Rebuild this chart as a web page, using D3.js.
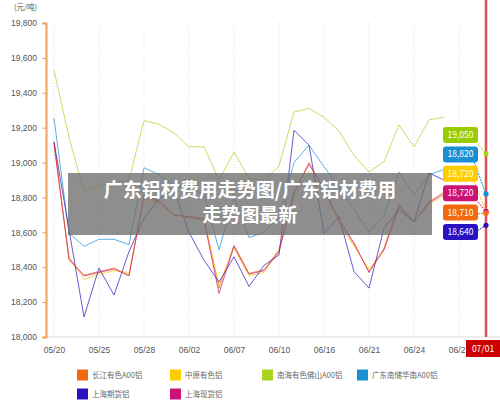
<!DOCTYPE html>
<html><head><meta charset="utf-8">
<script src="https://cdn.jsdelivr.net/npm/d3@7"></script>
<style>body{margin:0;background:#fff}svg{display:block;font-family:"Noto Sans CJK SC","DejaVu Sans",sans-serif}</style>
</head><body><svg id="c" width="500" height="409"></svg>
<script>
const xTicks = ["05/20","05/25","05/28","06/02","06/07","06/10","06/16","06/21","06/24","06/27"];
const yTicks = [18000,18200,18400,18600,18800,19000,19200,19400,19600,19800];
const names = ["长江有色A00铝","中原有色铝","南海有色佛山A00铝","广东南储华南A00铝","上海期货铝","上海现货铝"];
const colors = ["#f26a0f","#ffcc00","#a8d420","#1a8fd4","#2a12c0","#cc1377"];
const changjiang = [19120,18440,18355,18375,18395,18355,18800,18775,18700,18690,18680,18280,18525,18365,18385,18500,18825,19000,18845,18670,18530,18375,18510,18760,18660,18775,18830];
const zhongyuan  = [19100,18460,18330,18360,18380,18370,18790,18760,18700,18680,18670,18300,18510,18350,18370,18490,18800,18950,18820,18650,18520,18390,18500,18740,18660,18760,18810];
const nanhai     = [19530,19146,18830,18870,18880,18900,19240,19220,19170,19090,19090,18900,19060,18910,18900,18980,19290,19310,19260,19180,19040,18945,19005,19215,19090,19245,19260];
const guangdong  = [19255,18595,18520,18560,18560,18530,18970,18930,18870,18850,18820,18500,18800,18570,18600,18690,19000,19100,18975,18860,18730,18600,18700,18945,18815,18930,18960];
const shqihuo    = [19120,18615,18115,18395,18240,18490,18680,18795,18840,18600,18440,18315,18460,18290,18410,18470,19185,19100,18595,18690,18375,18280,18625,18730,18660,18940,18900];
const shxianhuo  = [19110,18450,18350,18370,18390,18350,18810,18780,18700,18690,18670,18250,18520,18360,18380,18490,18830,18990,18850,18670,18540,18370,18500,18750,18660,18770,18820];
const finals = [18710,18720,19050,18820,18640,18720];
const labelOrder = [2,3,1,5,0,4];
const series = [changjiang,zhongyuan,nanhai,guangdong,shqihuo,shxianhuo];

const svg = d3.select("#c");
const x = d3.scaleLinear().domain([0,27]).range([54,459]);
const y = d3.scaleLinear().domain([18000,19800]).range([337,23]);
const endX = 486;

xTicks.forEach((t,i)=>{
  svg.append("line").attr("x1",x(i*3)).attr("x2",x(i*3)).attr("y1",23).attr("y2",337)
    .attr("stroke","#ddd").attr("stroke-dasharray","1,2");
});
const xa = svg.append("g").attr("transform","translate(0,337)")
  .call(d3.axisBottom(x).tickValues(d3.range(0,28,3)).tickFormat((d,i)=>xTicks[i]).tickSize(0).tickPadding(10));
xa.select(".domain").attr("stroke","#ddd").attr("d","M46,0H500");
xa.selectAll("text").attr("fill","#555").attr("font-size",8.5);
const ya = svg.append("g").attr("transform","translate(46,0)")
  .call(d3.axisLeft(y).tickValues(yTicks).tickFormat(d3.format(",")).tickSize(4).tickPadding(5));
ya.select(".domain").attr("stroke","#f0a060").attr("stroke-width",2);
ya.selectAll(".tick line").attr("stroke","#f0a060");
ya.selectAll("text").attr("fill","#555").attr("font-size",8.5);
svg.append("text").attr("x",14).attr("y",10).attr("font-size",7.5).attr("fill","#555").text("(元/吨)");

const line = d3.line().x((d,i)=>x(i)).y(d=>y(d));
series.forEach((s,k)=>{
  svg.append("path").attr("d",line(s)).attr("fill","none").attr("stroke",colors[k])
    .attr("stroke-width",1).attr("stroke-opacity",0.7);
});

svg.append("line").attr("x1",endX).attr("x2",endX).attr("y1",0).attr("y2",337).attr("stroke","#f2a0a0").attr("stroke-width",3);
svg.append("line").attr("x1",endX).attr("x2",endX).attr("y1",0).attr("y2",337).attr("stroke","#c00").attr("stroke-width",1);

labelOrder.forEach((k,j)=>{
  const ly = 135 + j*19.4;
  svg.append("line").attr("x1",472).attr("y1",ly+2).attr("x2",endX).attr("y2",y(finals[k]))
    .attr("stroke",colors[k]).attr("stroke-dasharray","2,1");
  svg.append("circle").attr("cx",endX).attr("cy",y(finals[k])).attr("r",2.6).attr("fill",colors[k]);
  svg.append("rect").attr("x",443).attr("y",ly-8).attr("width",35).attr("height",16).attr("rx",3)
    .attr("fill",k==2?"#99cc00":colors[k]);
  svg.append("text").attr("x",460.5).attr("y",ly+3).attr("text-anchor","middle").attr("font-size",8.5)
    .attr("fill","#fff").text(d3.format(",")(finals[k]));
});
svg.append("rect").attr("x",466).attr("y",340).attr("width",34).attr("height",17).attr("fill","#cc0000");
svg.append("text").attr("x",483).attr("y",352).attr("text-anchor","middle").attr("font-size",8.5).attr("fill","#fff").text("07/01");

const lpos = [[77,375],[170,375],[262,375],[357,375],[77,394],[170,394]];
names.forEach((n,k)=>{
  svg.append("rect").attr("x",lpos[k][0]).attr("y",lpos[k][1]-5.5).attr("width",11).attr("height",11).attr("fill",colors[k]);
  svg.append("text").attr("x",lpos[k][0]+15).attr("y",lpos[k][1]+3).attr("font-size",7.5).attr("fill","#666").text(n);
});

svg.append("rect").attr("x",68).attr("y",173).attr("width",364).attr("height",62).attr("fill","rgba(110,110,110,0.78)");
svg.append("text").attr("x",250).attr("y",197).attr("text-anchor","middle").attr("font-size",19).attr("font-weight","bold").attr("fill","#fff").text("广东铝材费用走势图/广东铝材费用");
svg.append("text").attr("x",250).attr("y",222).attr("text-anchor","middle").attr("font-size",19).attr("font-weight","bold").attr("fill","#fff").text("走势图最新");
</script></body></html>
